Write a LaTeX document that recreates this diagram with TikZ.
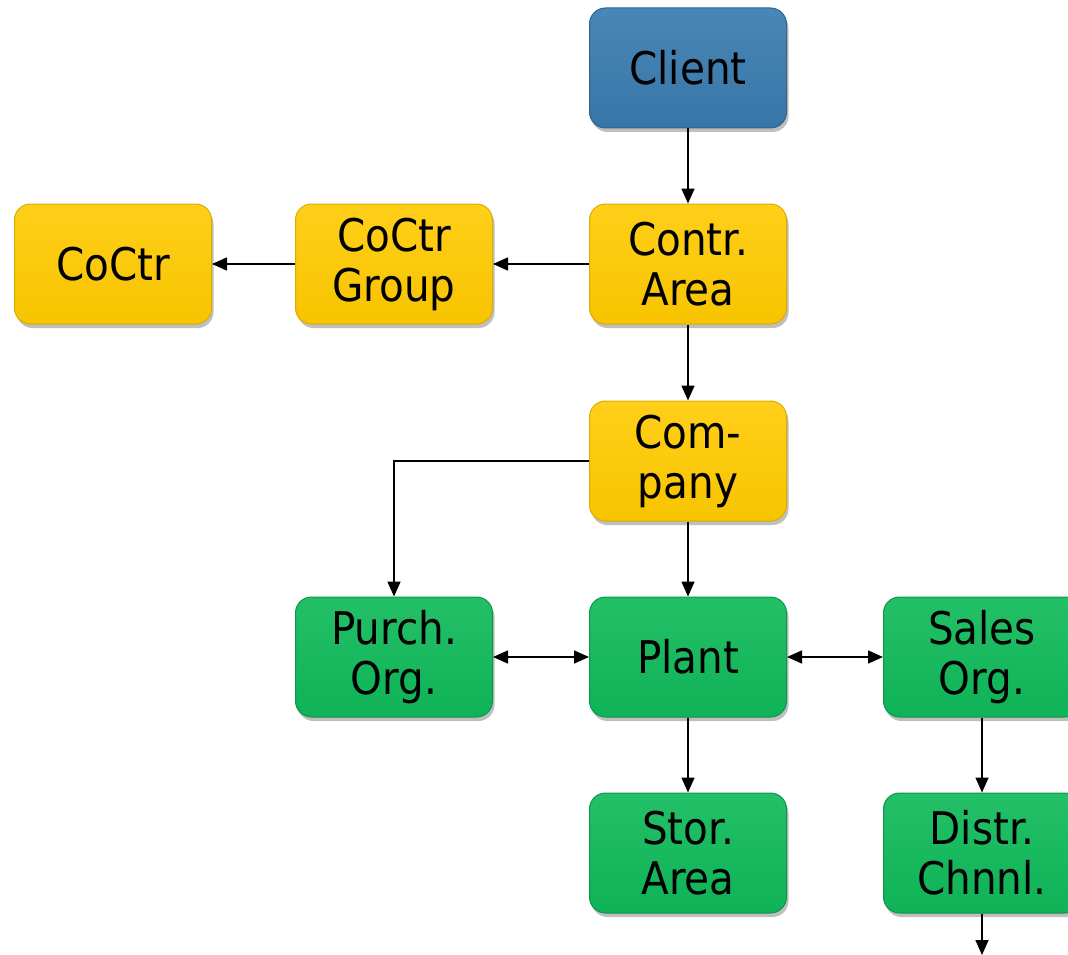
\documentclass[tikz,border=0pt]{standalone}
\usepackage{fontspec}
\setmainfont{DejaVu Sans Condensed}
\usetikzlibrary{arrows.meta,shadows}

\definecolor{clientblue}{RGB}{58,124,176}
\definecolor{orgyellow}{RGB}{255,202,0}
\definecolor{orggreen}{RGB}{16,186,90}

\tikzset{
  unit/.style={
    rounded corners=16pt, minimum width=197pt, minimum height=120pt,
    inner sep=0pt, align=center, text=black,
    font=\fontsize{45}{50}\selectfont,
    drop shadow={shadow xshift=2pt, shadow yshift=-4pt, opacity=0.25, fill=black}
  },
  blueunit/.style={unit, draw=clientblue!80!black, line width=1pt,
    top color=clientblue!92!white, bottom color=clientblue!95!black},
  yellowunit/.style={unit, draw=orgyellow!85!black, line width=1pt,
    top color=orgyellow!90!white, bottom color=orgyellow!97!black},
  greenunit/.style={unit, draw=orggreen!80!black, line width=1pt,
    top color=orggreen!92!white, bottom color=orggreen!96!black},
  link/.style={line width=1.6pt, -{Triangle[length=15pt,width=13pt]}},
  twoway/.style={line width=1.6pt, {Triangle[length=15pt,width=13pt]}-{Triangle[length=15pt,width=13pt]}}
}

\begin{document}
\begin{tikzpicture}[x=1pt,y=-1pt]
  \useasboundingbox (0,0) rectangle (1068,955);

  % organisational units
  \node[blueunit]   (client)  at (688,68)  {Client};
  \node[yellowunit] (contr)   at (688,264) {Contr.\\Area};
  \node[yellowunit] (ccgroup) at (394,264) {CoCtr\\Group};
  \node[yellowunit] (coctr)   at (113,264) {CoCtr};
  \node[yellowunit] (company) at (688,461) {Com-\\pany};
  \node[greenunit]  (purch)   at (394,657) {Purch.\\Org.};
  \node[greenunit]  (plant)   at (688,657) {Plant};
  \node[greenunit]  (sales)   at (982,657) {Sales\\Org.};
  \node[greenunit]  (stor)    at (688,853) {Stor.\\Area};
  \node[greenunit]  (distr)   at (982,853) {Distr.\\Chnnl.};
  \coordinate (below) at (982,955);

  % assignments
  \draw[link] (client) -- (contr);
  \draw[link] (contr) -- (ccgroup);
  \draw[link] (ccgroup) -- (coctr);
  \draw[link] (contr) -- (company);
  \draw[link] (company.west) -| (purch.north);
  \draw[link] (company) -- (plant);
  \draw[twoway] (purch) -- (plant);
  \draw[twoway] (plant) -- (sales);
  \draw[link] (plant) -- (stor);
  \draw[link] (sales) -- (distr);
  \draw[link] (distr) -- (below);
\end{tikzpicture}
\end{document}
